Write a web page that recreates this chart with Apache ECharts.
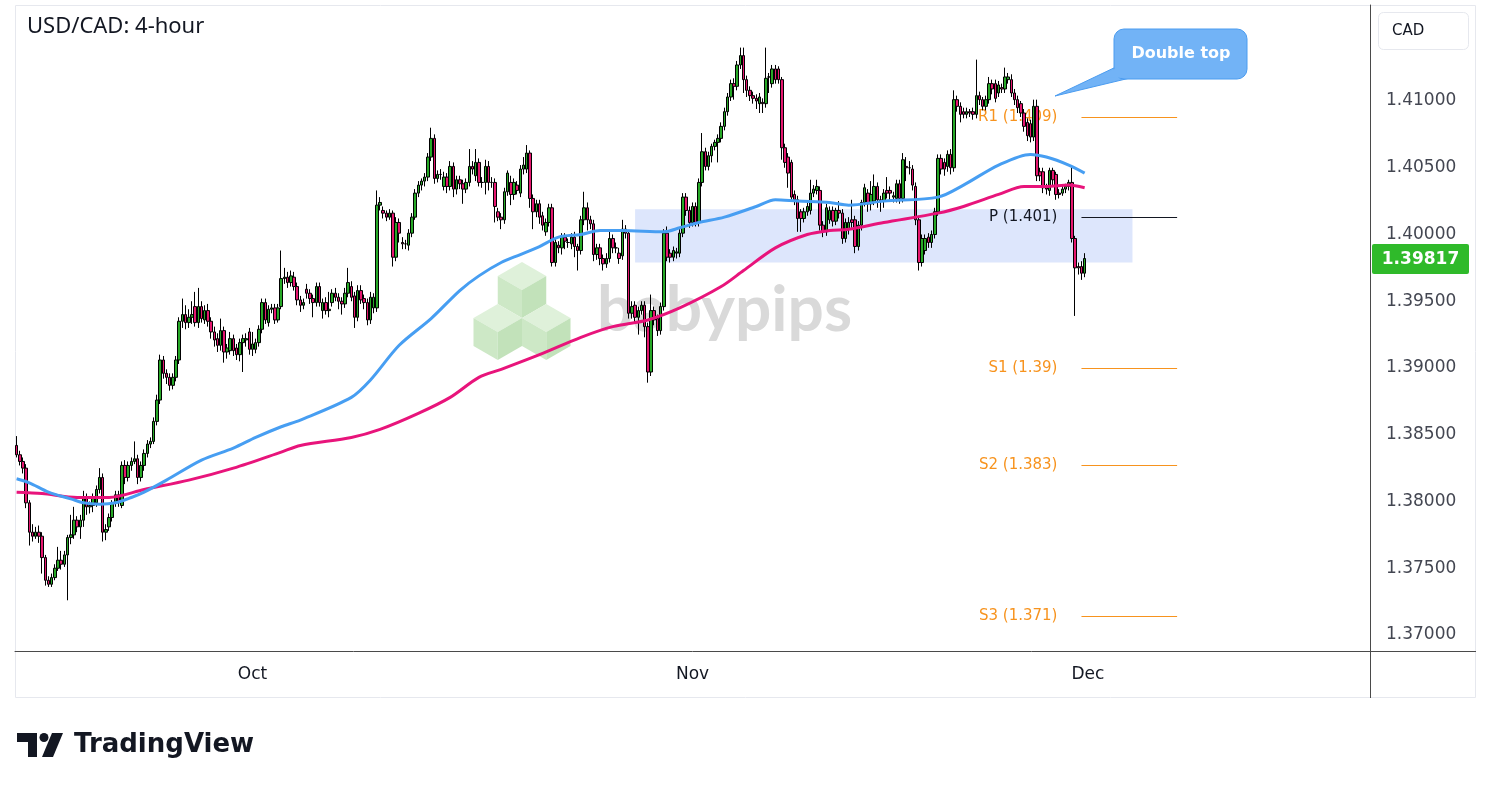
<!DOCTYPE html>
<html>
<head>
<meta charset="utf-8">
<script src="https://cdn.jsdelivr.net/npm/echarts@6/dist/echarts.min.js"></script>
<style>html,body{margin:0;padding:0;background:#fff;}#chart{width:1491px;height:789px;}</style>
</head>
<body>
<div id="chart"></div>
<script>
// Prices are stored in units of 0.0001 CAD (e.g. 13842 = 1.3842)
const PRICE_SCALE = 10000;

const opens = [
13842,13835,13830,13825,13799,13777,13774,13777,13774,13758,
13741,13738,13743,13750,13756,13753,13760,13773,13775,13786,
13781,13786,13803,13796,13797,13799,13809,13818,13777,13781,
13788,13799,13805,13797,13827,13818,13827,13830,13832,13818,
13827,13836,13843,13845,13860,13876,13906,13896,13893,13887,
13893,13906,13935,13940,13934,13938,13946,13934,13946,13936,
13943,13935,13927,13922,13917,13928,13912,13913,13922,13915,
13910,13919,13921,13927,13914,13914,13919,13929,13949,13934,
13944,13945,13936,13946,13967,13968,13964,13968,13961,13951,
13947,13959,13956,13952,13949,13961,13943,13949,13943,13949,
13956,13953,13950,13948,13956,13961,13954,13938,13958,13952,
13949,13936,13945,13945,14022,14018,14016,14013,14016,13983,
14009,13994,13993,13992,14001,14013,14031,14037,14040,14043,
14058,14072,14042,14045,14036,14043,14036,14051,14034,14041,
14038,14034,14039,14051,14044,14054,14039,14039,14051,14039,
14039,14017,14013,14011,14032,14039,14030,14037,14031,14049,
14049,14061,14027,14017,14023,14014,14002,14009,14020,13979,
13992,13990,13998,13994,13993,13998,13991,13988,14011,14020,
14011,14008,13985,13990,13982,13978,13982,13997,13990,13986,
13984,14004,14001,13941,13947,13938,13943,13947,13931,13897,
13943,13937,13928,13946,14001,13986,13983,13986,13986,14001,
14028,14018,14009,14021,14009,14039,14062,14051,14059,14066,
14069,14072,14081,14092,14103,14113,14111,14127,14134,14116,
14108,14104,14102,14098,14099,14098,14118,14113,14124,14124,
14116,14065,14058,14054,14030,14026,14017,14012,14017,14018,
14031,14033,14033,14007,14002,14011,14018,14010,14018,14016,
13997,14004,14011,14011,13991,14007,14024,14031,14023,14025,
14036,14026,14025,14033,14033,14028,14027,14038,14027,14051,
14050,14049,14036,14011,13979,13988,13998,13994,14000,14017,
14057,14054,14051,14060,14050,14101,14096,14092,14090,14092,
14092,14090,14104,14101,14096,14101,14113,14113,14106,14110,
14109,14116,14116,14106,14101,14098,14091,14084,14083,14073,
14096,14047,14047,14035,14033,14048,14045,14031,14031,14034,
14036,14039,13997,13976,13976,13971
];
const closes = [
13835,13830,13825,13799,13777,13774,13777,13774,13758,13741,
13738,13743,13750,13756,13753,13760,13773,13775,13786,13781,
13786,13802,13796,13797,13803,13809,13818,13777,13779,13788,
13799,13805,13799,13827,13818,13827,13830,13832,13818,13827,
13836,13843,13845,13860,13876,13906,13896,13893,13887,13893,
13906,13935,13940,13934,13938,13940,13934,13946,13937,13943,
13935,13927,13921,13917,13928,13912,13915,13922,13913,13910,
13919,13922,13922,13914,13918,13919,13929,13949,13936,13944,
13945,13936,13945,13967,13968,13964,13969,13961,13951,13947,
13949,13956,13952,13949,13961,13949,13949,13943,13944,13956,
13953,13950,13948,13956,13964,13953,13938,13958,13951,13949,
13936,13953,13953,14022,14024,14016,14013,14016,13983,14009,
14001,13993,13993,14001,14013,14031,14037,14040,14043,14058,
14072,14042,14045,14045,14043,14036,14051,14034,14041,14038,
14034,14039,14051,14049,14054,14039,14039,14051,14039,14039,
14021,14013,14011,14032,14046,14030,14039,14033,14049,14052,
14061,14027,14017,14023,14013,14007,14009,14020,13979,13994,
13990,13998,13995,13994,13998,13991,13988,14011,14020,14011,
14008,13985,13990,13982,13978,13982,13997,13990,13990,13982,
14004,14001,13941,13946,13938,13943,13947,13931,13897,13943,
13936,13928,13946,14001,13983,13983,13988,13987,14001,14028,
14018,14009,14021,14009,14039,14062,14051,14059,14066,14069,
14072,14081,14092,14103,14113,14111,14127,14134,14116,14108,
14104,14102,14100,14103,14098,14117,14118,14124,14116,14116,
14065,14054,14046,14028,14026,14012,14012,14017,14021,14031,
14034,14036,14007,14002,14020,14018,14010,14018,14016,13997,
14009,14009,14009,13991,14007,14024,14035,14023,14030,14036,
14026,14025,14031,14031,14031,14029,14038,14027,14056,14050,
14050,14037,14011,13979,13997,13997,13994,14000,14017,14057,
14049,14049,14060,14050,14101,14096,14090,14090,14092,14091,
14090,14104,14101,14096,14101,14113,14109,14102,14112,14109,
14118,14118,14106,14101,14095,14091,14081,14074,14073,14096,
14044,14044,14035,14034,14048,14041,14030,14030,14034,14036,
14039,13997,13975,13975,13971,13982
];
const lows = [
13833,13827,13821,13795,13767,13770,13772,13769,13746,13737,
13736,13736,13741,13748,13749,13751,13726,13768,13772,13777,
13772,13781,13790,13791,13792,13796,13806,13770,13771,13778,
13785,13796,13796,13795,13813,13815,13823,13828,13813,13815,
13823,13833,13840,13843,13857,13873,13892,13888,13883,13884,
13890,13903,13930,13929,13930,13933,13931,13930,13934,13933,
13931,13922,13916,13912,13913,13904,13907,13910,13909,13906,
13905,13897,13916,13910,13909,13911,13916,13926,13933,13931,
13941,13933,13934,13944,13963,13960,13961,13958,13947,13942,
13944,13952,13948,13938,13946,13946,13937,13940,13938,13946,
13950,13944,13940,13945,13953,13950,13930,13935,13948,13944,
13932,13933,13941,13942,14018,14012,14010,14011,13976,13980,
13994,13989,13989,13988,13998,14011,14028,14033,14036,14040,
14055,14038,14039,14041,14033,14031,14033,14028,14030,14034,
14023,14031,14036,14045,14040,14036,14035,14030,14033,14035,
14009,14010,14004,14008,14029,14022,14026,14030,14028,14045,
14046,14020,14004,14013,14008,14003,13999,14006,13976,13976,
13986,13985,13989,13990,13989,13983,13973,13985,14007,14003,
14004,13980,13981,13977,13973,13975,13979,13986,13986,13978,
13981,13997,13937,13937,13934,13925,13940,13923,13889,13894,
13932,13924,13925,13943,13980,13979,13980,13982,13983,13998,
14014,14005,14006,14006,14006,14036,14048,14048,14054,14063,
14054,14069,14078,14089,14100,14101,14108,14124,14106,14103,
14100,14098,14094,14091,14091,14095,14106,14110,14113,14113,
14056,14050,14035,14025,14022,14002,14002,14009,14014,14015,
14028,14030,14003,13998,13999,14008,14006,14007,14012,13993,
13994,14000,14005,13986,13988,14003,14021,14017,14018,14022,
14020,14017,14020,14027,14026,14024,14024,14023,14024,14040,
14045,14033,14007,13973,13976,13985,13990,13990,13997,14014,
14045,14044,14047,14045,14047,14092,14084,14087,14087,14088,
14086,14087,14097,14093,14093,14098,14105,14099,14103,14106,
14106,14113,14103,14097,14091,14088,14077,14070,14069,14070,
14040,14040,14031,14030,14029,14037,14026,14027,14029,14031,
14033,13994,13939,13970,13966,13968
];
const highs = [
13849,13838,13833,13828,13801,13783,13781,13782,13777,13760,
13744,13746,13753,13766,13763,13763,13775,13790,13796,13789,
13790,13808,13806,13800,13806,13812,13825,13821,13783,13791,
13801,13808,13808,13830,13831,13830,13833,13845,13835,13830,
13839,13846,13848,13863,13880,13910,13909,13899,13896,13896,
13909,13938,13952,13947,13944,13950,13957,13960,13950,13947,
13948,13938,13931,13926,13937,13931,13918,13927,13925,13918,
13922,13925,13926,13930,13927,13922,13932,13952,13952,13947,
13948,13948,13948,13988,13975,13972,13973,13972,13964,13954,
13952,13963,13959,13955,13964,13964,13952,13953,13957,13959,
13960,13956,13953,13960,13975,13965,13957,13962,13962,13955,
13952,13957,13956,14033,14028,14021,14018,14019,14018,14013,
14012,13998,13996,14004,14016,14034,14040,14042,14046,14061,
14080,14075,14048,14049,14047,14046,14055,14054,14044,14044,
14041,14042,14064,14055,14064,14057,14043,14056,14055,14043,
14042,14020,14016,14035,14048,14044,14042,14040,14052,14058,
14067,14063,14030,14026,14026,14017,14012,14023,14023,13997,
13995,14001,14001,13997,14001,14002,13993,14014,14032,14024,
14014,14011,13993,13993,13985,13986,14003,14000,13994,13990,
14011,14007,14003,13950,13950,13946,13950,13950,13934,13955,
13946,13940,13949,14004,14006,13989,13991,13990,14004,14031,
14031,14021,14024,14024,14042,14076,14065,14062,14068,14071,
14075,14084,14095,14106,14116,14117,14130,14140,14140,14119,
14111,14107,14105,14106,14102,14140,14121,14127,14127,14126,
14118,14068,14061,14056,14033,14029,14019,14020,14024,14041,
14037,14041,14036,14010,14023,14021,14021,14020,14025,14019,
14012,14013,14026,14014,14010,14026,14038,14034,14040,14045,
14039,14029,14034,14043,14036,14032,14041,14041,14061,14058,
14055,14052,14039,14014,14000,14000,14001,14003,14020,14060,
14060,14057,14063,14064,14108,14104,14099,14095,14095,14094,
14095,14131,14107,14103,14104,14118,14116,14116,14115,14113,
14125,14121,14120,14109,14104,14100,14094,14087,14086,14101,
14101,14050,14050,14038,14050,14050,14047,14034,14037,14038,
14041,14052,13999,13979,13980,13986
];

// Moving averages: [candle index, price x 10000]
const maBlue = [
[0,13817],[4,13814],[10,13807],[17,13802],[21,13799],[26,13798],[31,13799],[36,13803],[40,13807],
[47,13816],[58,13831],[68,13840],[75,13848],[83,13856],[89,13861],[105,13878],[111,13891],[120,13917],
[130,13937],[139,13958],[145,13969],[152,13979],[158,13985],[164,13991],[170,13998],[177,14000],
[183,14003],[190,14003],[203,14002],[208,14005],[214,14009],[222,14013],[232,14021],[238,14026],
[245,14025],[255,14024],[261,14022],[272,14025],[289,14028],[297,14037],[308,14052],[318,14060],
[323,14058],[330,14052],[335,14046]
];
const maPink = [
[0,13807],[8,13806],[19,13803],[29,13803],[40,13809],[54,13816],[68,13825],[83,13837],[89,13842],
[105,13848],[114,13854],[126,13866],[136,13878],[145,13893],[152,13899],[164,13910],[177,13923],
[187,13931],[198,13936],[208,13945],[221,13961],[228,13973],[238,13990],[248,14000],[255,14003],
[261,14004],[272,14009],[289,14016],[297,14021],[308,14030],[316,14036],[323,14036],[330,14037],
[335,14035]
];

const SLOT_COUNT = 425;
const slots = Array.from({length: SLOT_COUNT}, (_, i) => String(i));
const monthIdx = [74, 212, 336];
const monthNames = ['Oct', 'Nov', 'Dec'];

const pivotLabels = ['R1 (1.409)', 'P (1.401)', 'S1 (1.39)', 'S2 (1.383)', 'S3 (1.371)'];
const pivotValues = [1.4088, 1.4013, 1.3900, 1.3827, 1.3714];
const pivotColors = ['#f7931e', '#131722', '#f7931e', '#f7931e', '#f7931e'];
const pivotFrom = 334, pivotTo = 364;

const zoneFrom = 194, zoneTo = 350, zoneTop = 1.4019, zoneBottom = 1.3979;
const lastPrice = 1.39817;

const candles = closes.map((c, i) => [opens[i] / PRICE_SCALE, c / PRICE_SCALE, lows[i] / PRICE_SCALE, highs[i] / PRICE_SCALE]);
const toLine = arr => arr.map(([i, p]) => [i, p / PRICE_SCALE]);

function cube(cx, cy, r) {
  const w = r * 0.866;
  const T = [cx, cy - r], UR = [cx + w, cy - r / 2], LR = [cx + w, cy + r / 2], B = [cx, cy + r], LL = [cx - w, cy + r / 2], UL = [cx - w, cy - r / 2], C = [cx, cy];
  return [
    {type: 'polygon', shape: {points: [T, UR, C, UL]}, style: {fill: '#dff1da'}, z: -10, silent: true},
    {type: 'polygon', shape: {points: [UL, C, B, LL]}, style: {fill: '#cde8c6'}, z: -10, silent: true},
    {type: 'polygon', shape: {points: [C, UR, LR, B]}, style: {fill: '#c2e2ba'}, z: -10, silent: true}
  ];
}

const chart = echarts.init(document.getElementById('chart'), null, {renderer: 'canvas'});
chart.setOption({
  animation: false,
  backgroundColor: '#ffffff',
  textStyle: {fontFamily: 'DejaVu Sans'},
  grid: {left: 15, right: 121, top: 5, bottom: 138, containLabel: false},
  xAxis: {
    type: 'category', data: slots, boundaryGap: true,
    axisLine: {show: true, lineStyle: {color: '#4a4a4a', width: 1}},
    axisTick: {show: false},
    splitLine: {show: false},
    axisLabel: {
      interval: (index) => monthIdx.includes(index),
      formatter: (value) => { const k = monthIdx.indexOf(Number(value)); return k >= 0 ? monthNames[k] : ''; },
      color: '#131722', fontSize: 17, margin: 15, fontFamily: 'DejaVu Sans'
    }
  },
  yAxis: {
    type: 'value', position: 'right', scale: true,
    min: 1.368801, max: 1.417191,
    splitNumber: 10, minInterval: 0.005, maxInterval: 0.005,
    axisLine: {show: true, lineStyle: {color: '#4a4a4a', width: 1}},
    axisTick: {show: false},
    splitLine: {show: false},
    axisLabel: {
      showMinLabel: false, showMaxLabel: false,
      formatter: (v) => (v > 1.4126 ? '' : v.toFixed(5)),
      color: '#434651', fontSize: 17, margin: 16, fontFamily: 'DejaVu Sans'
    }
  },
  series: [
    {
      type: 'candlestick', name: 'USD/CAD', data: candles, barWidth: 3, z: 2,
      itemStyle: {color: '#27a827', color0: '#e5176f', borderColor: '#000000', borderColor0: '#000000', borderWidth: 1},
      markArea: {
        silent: true, z: 1,
        itemStyle: {color: '#dde6fc'},
        data: [[{coord: [zoneFrom, zoneTop]}, {coord: [zoneTo, zoneBottom]}]]
      },
      markLine: {
        silent: true, symbol: ['none', 'none'], z: 1, animation: false,
        data: pivotValues.map((v, k) => [
          {coord: [pivotFrom, v], lineStyle: {color: pivotColors[k], width: 1, type: 'solid'},
           label: {show: true, position: 'start', distance: 24, formatter: pivotLabels[k], color: pivotColors[k], fontSize: 15, fontFamily: 'DejaVu Sans'}},
          {coord: [pivotTo, v]}
        ])
      }
    },
    {
      type: 'line', name: 'MA fast', data: toLine(maBlue), smooth: 0.3, symbol: 'none', z: 4,
      lineStyle: {color: '#479ef2', width: 3}
    },
    {
      type: 'line', name: 'MA slow', data: toLine(maPink), smooth: 0.3, symbol: 'none', z: 3,
      lineStyle: {color: '#e8147b', width: 3}
    }
  ]
});

// Last price tag placed through the value axis scale
const yLast = chart.convertToPixel({yAxisIndex: 0}, lastPrice);

chart.setOption({
  graphic: [
    {type: 'rect', shape: {x: 15.5, y: 5.5, width: 1460, height: 692}, style: {fill: 'none', stroke: '#e6e8ee', lineWidth: 1}, silent: true, z: -20},
    {type: 'line', shape: {x1: 1370.5, y1: 651, x2: 1370.5, y2: 698}, style: {stroke: '#4a4a4a', lineWidth: 1}, silent: true},
    {type: 'line', shape: {x1: 1370, y1: 651.5, x2: 1476, y2: 651.5}, style: {stroke: '#4a4a4a', lineWidth: 1}, silent: true},
    {type: 'text', x: 27, y: 27, style: {text: 'USD/CAD: 4-hour', fill: '#131722', font: '22px "Noto Sans"', textVerticalAlign: 'middle'}, silent: true},
    {type: 'rect', shape: {x: 1378.5, y: 12.5, width: 90, height: 37, r: 5}, style: {fill: '#ffffff', stroke: '#e6e8ee', lineWidth: 1}, silent: true},
    {type: 'text', x: 1392, y: 31, style: {text: 'CAD', fill: '#131722', font: '15px "DejaVu Sans"', textVerticalAlign: 'middle'}, silent: true},
    // last price tag
    {type: 'rect', shape: {x: 1372, y: yLast - 15, width: 97, height: 30, r: 2}, style: {fill: '#2fba2a'}, silent: true, z: 20},
    {type: 'text', x: 1420.5, y: yLast + 0.5, style: {text: lastPrice.toFixed(5), fill: '#ffffff', font: 'bold 17px "DejaVu Sans"', textAlign: 'center', textVerticalAlign: 'middle'}, silent: true, z: 21},
    // Double top callout
    {type: 'polygon', shape: {points: [[1118, 66], [1055, 96], [1130, 78]]}, style: {fill: '#72b3f6', stroke: '#4b9cf0', lineWidth: 1}, silent: true, z: 10},
    {type: 'rect', shape: {x: 1114, y: 29, width: 133, height: 50, r: 10}, style: {fill: '#72b3f6', stroke: '#4b9cf0', lineWidth: 1}, silent: true, z: 10},
    {type: 'polygon', shape: {points: [[1119, 67], [1095, 78], [1131, 77.5]]}, style: {fill: '#72b3f6'}, silent: true, z: 11},
    {type: 'text', x: 1181, y: 54, style: {text: 'Double top', fill: '#ffffff', font: 'bold 16px "DejaVu Sans"', textAlign: 'center', textVerticalAlign: 'middle'}, silent: true, z: 12},
    // babypips watermark
    ...cube(522, 290, 28), ...cube(497.75, 332, 28), ...cube(546.25, 332, 28),
    {type: 'text', x: 597, y: 310, style: {text: 'babypips', fill: '#d9d9d9', font: 'bold 64px "Lato"', textVerticalAlign: 'middle'}, silent: true, z: -10},
    // TradingView logo
    {type: 'polygon', shape: {points: [[17, 733], [37, 733], [37, 757], [28, 757], [28, 742], [17, 742]]}, style: {fill: '#131722'}, silent: true},
    {type: 'circle', shape: {cx: 44, cy: 737.5, r: 4.5}, style: {fill: '#131722'}, silent: true},
    {type: 'polygon', shape: {points: [[52, 733], [63, 733], [53, 757], [42, 757]]}, style: {fill: '#131722'}, silent: true},
    {type: 'text', x: 74, y: 745, style: {text: 'TradingView', fill: '#131722', font: 'bold 26px "DejaVu Sans"', textVerticalAlign: 'middle'}, silent: true}
  ]
});
</script>
</body>
</html>
